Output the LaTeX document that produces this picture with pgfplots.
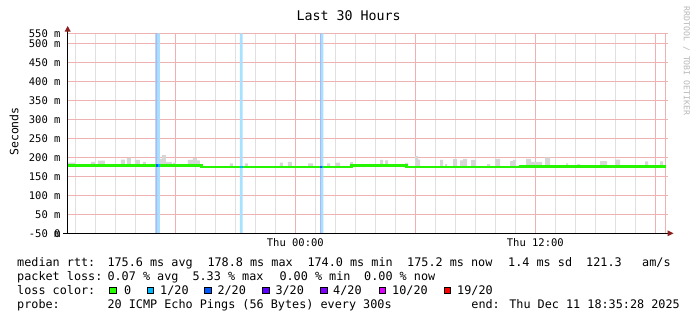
\documentclass[border=0pt]{standalone}
\usepackage{fontspec}
\setmainfont{DejaVu Sans Mono}
\usepackage{pgfplots}
\pgfplotsset{compat=1.18}
\definecolor{gridmaj}{RGB}{238,178,178}
\definecolor{gridmin}{RGB}{224,224,224}
\definecolor{smoke}{RGB}{214,214,214}
\definecolor{medgreen}{RGB}{38,245,0}
\definecolor{lossA}{RGB}{168,224,255}
\definecolor{lossB}{RGB}{155,190,255}
\definecolor{arrowred}{RGB}{140,30,30}
\definecolor{c0}{HTML}{26FF00}
\definecolor{c1}{HTML}{00B8FF}
\definecolor{c2}{HTML}{0059FF}
\definecolor{c3}{HTML}{5E00FF}
\definecolor{c4}{HTML}{7E00FF}
\definecolor{c10}{HTML}{DD00FF}
\definecolor{c19}{HTML}{FF0000}
\newcommand{\lgfont}{\fontsize{11.8bp}{14bp}\selectfont}
\begin{document}
\begin{tikzpicture}[x=1bp,y=1bp]
\fill[white] (0,0) rectangle (697,321);
\begin{axis}[
  at={(67.7bp,87.7bp)}, anchor=south west,
  scale only axis, width=600bp, height=200bp,
  xmin=-11.38, xmax=18.62, ymin=0, ymax=526.3,
  axis line style={draw=none},
  xtick={-6,0,6,12,18},
  xticklabels={,Thu 00:00,,Thu 12:00,},
  minor xtick={-11,-10,-9,-8,-7,-5,-4,-3,-2,-1,1,2,3,4,5,7,8,9,10,11,13,14,15,16,17},
  ytick={0,50,100,150,200,250,300,350,400,450,500},
  yticklabels={0,50 m,100 m,150 m,200 m,250 m,300 m,350 m,400 m,450 m,500 m},
  extra y ticks={0,526.3},
  extra y tick labels={-50 m,550 m},
  grid=both,
  major grid style={gridmaj, line width=0.8bp},
  minor grid style={gridmin, line width=0.8bp},
  major tick length=0pt, minor tick length=0pt,
  tick label style={font=\fontsize{10.5bp}{12bp}\selectfont, inner sep=0pt},
  yticklabel style={xshift=-7bp},
  xticklabel style={yshift=-5.5bp},
]
% packet loss bars
\addplot[const plot, fill=lossB, draw=none] coordinates {(-6.98,526.3) (-6.88,526.3)} \closedcycle;
\addplot[const plot, fill=lossA, draw=none] coordinates {(-6.88,526.3) (-6.77,526.3)} \closedcycle;
\addplot[const plot, fill=lossA, draw=none] coordinates {(-2.77,526.3) (-2.63,526.3)} \closedcycle;
\addplot[const plot, fill=lossB, draw=none] coordinates {(1.24,526.3) (1.32,526.3)} \closedcycle;
\addplot[const plot, fill=lossA, draw=none] coordinates {(1.32,526.3) (1.40,526.3)} \closedcycle;
% right end rule
\addplot[gridmaj, line width=0.8bp] coordinates {(18.52,0) (18.52,526.3)};
% smoke: upper envelope left to right, then median back right to left
\addplot[const plot, fill=smoke, draw=none] coordinates {
(-11.38,178.3) (-11.37,186) (-11.02,178.3) (-10.22,188) (-10.02,178.3)
(-9.87,191) (-9.52,178.3) (-8.72,194) (-8.52,178.3) (-8.42,199) (-8.22,178.3)
(-8.02,193) (-7.77,178.3) (-7.62,188) (-7.47,178.3) (-6.77,195) (-6.67,206)
(-6.47,188) (-6.17,178.3) (-6.12,186) (-5.97,178.3) (-5.37,193) (-5.12,198)
(-4.92,192) (-4.77,178.3) (-4.68,174.8) (-3.27,184) (-3.12,174.8) (-2.52,184)
(-2.37,174.8) (-0.77,186) (-0.62,174.8) (-0.37,188) (-0.17,174.8) (0.64,184)
(0.89,174.8) (1.59,184) (1.74,174.8) (1.99,186) (2.24,174.8) (2.74,187)
(2.89,178) (4.24,193) (4.39,178) (4.49,192) (4.64,178) (5.49,185) (5.64,174.5)
(5.99,203) (6.14,194) (6.24,174.5) (7.24,193) (7.39,174.5) (7.49,182)
(7.59,174.5) (7.89,195) (8.09,174.5) (8.24,192) (8.39,196) (8.59,174.5)
(8.79,193) (9.04,174.5) (9.59,182) (9.74,174.5) (9.99,196) (10.24,174.5)
(10.74,190) (10.89,193) (11.04,174.5) (11.24,175.5) (11.54,196) (11.79,188)
(12.34,175.5) (12.49,200) (12.74,175.5) (13.54,184) (13.64,175.5) (14.09,182)
(14.24,175.5) (15.24,190) (15.59,175.5) (15.99,194) (16.24,175.5) (17.49,189)
(17.64,175.5) (18.24,189) (18.39,175.5) (18.52,175.5)
(11.24,174.5) (5.57,178.0) (2.82,174.8) (-4.68,178.3) (-11.38,178.3)};
% median rtt
\addplot[const plot, medgreen, line width=2.5bp] coordinates {
(-11.38,178.3) (-4.68,174.8) (2.82,178.0) (5.57,174.5) (11.24,175.5) (18.52,175.5)};
\addplot[const plot, c2, line width=2.5bp] coordinates {(-6.98,178.3) (-6.88,178.3)};
\addplot[const plot, c1, line width=2.5bp] coordinates {(-6.88,178.3) (-6.77,178.3)};
\addplot[const plot, c1, line width=2.5bp] coordinates {(-2.77,174.8) (-2.63,174.8)};
\addplot[const plot, c2, line width=2.5bp] coordinates {(1.24,174.8) (1.32,174.8)};
\addplot[const plot, c1, line width=2.5bp] coordinates {(1.32,174.8) (1.40,174.8)};
\end{axis}
% axis lines and arrows
\draw[black, line width=1bp] (63,87.7) -- (668,87.7);
\draw[black, line width=1bp] (67.7,87.7) -- (67.7,290);
\fill[arrowred] (673.5,87.7) -- (667.5,90.7) -- (667.5,84.7) -- cycle;
\fill[arrowred] (67.7,295) -- (64.7,289.5) -- (70.7,289.5) -- cycle;
% title, axis label, watermark
\node[anchor=base, inner sep=0pt, font=\fontsize{13.3bp}{15bp}\selectfont] at (348.7,301) {Last 30 Hours};
\node[rotate=90, inner sep=0pt, font=\fontsize{11.5bp}{13bp}\selectfont] at (14,189.5) {Seconds};
\node[rotate=-90, inner sep=0pt, text=black!28, font=\fontsize{8.2bp}{9bp}\selectfont] at (686.5,260) {RRDTOOL / TOBI OETIKER};
% legend text
\begin{scope}[every node/.style={anchor=base west, inner sep=0pt, font=\lgfont}]
\node at (17,55) {median rtt:};
\node at (107.3,55) {175.6 ms avg};
\node at (207.3,55) {178.8 ms max};
\node at (307.3,55) {174.0 ms min};
\node at (407,55) {175.2 ms now};
\node at (508,55) {1.4 ms sd};
\node at (586,55) {121.3};
\node at (642,55) {am/s};
\node at (17,41) {packet loss:};
\node at (107.3,41) {0.07 \% avg};
\node at (192.3,41) {5.33 \% max};
\node at (279.3,41) {0.00 \% min};
\node at (364,41) {0.00 \% now};
\node at (17,27) {loss color:};
\node at (124,27) {0};
\node at (160,27) {1/20};
\node at (217.3,27) {2/20};
\node at (275.3,27) {3/20};
\node at (333,27) {4/20};
\node at (392,27) {10/20};
\node at (457,27) {19/20};
\node at (17,13) {probe:};
\node at (107.3,13) {20 ICMP Echo Pings (56 Bytes) every 300s};
\node[anchor=base east] at (680,13) {end: Thu Dec 11 18:35:28 2025};
\end{scope}
\begin{scope}[line width=0.8bp]
\filldraw[fill=c0, draw=black] (109.8,27.5) rectangle (116.3,34);
\filldraw[fill=c1, draw=black] (147.2,27.5) rectangle (153.7,34);
\filldraw[fill=c2, draw=black] (204.8,27.5) rectangle (211.3,34);
\filldraw[fill=c3, draw=black] (262.8,27.5) rectangle (269.3,34);
\filldraw[fill=c4, draw=black] (320.5,27.5) rectangle (327,34);
\filldraw[fill=c10, draw=black] (379.2,27.5) rectangle (385.7,34);
\filldraw[fill=c19, draw=black] (444.2,27.5) rectangle (450.7,34);
\end{scope}
\end{tikzpicture}
\end{document}
